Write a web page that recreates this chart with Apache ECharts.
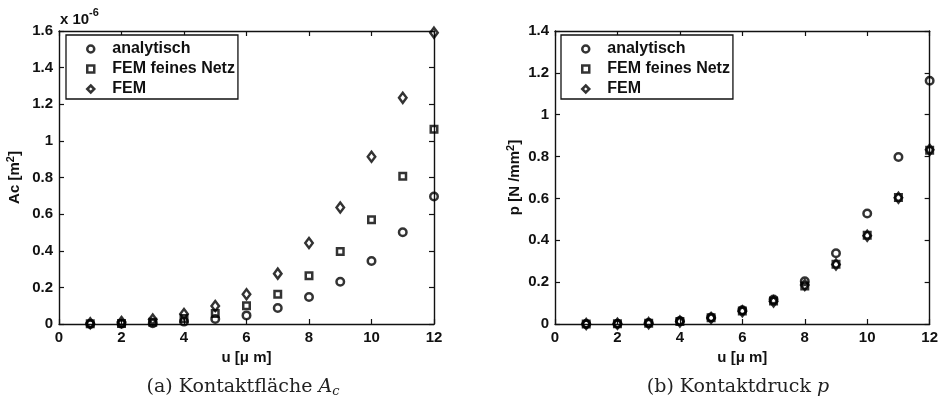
<!DOCTYPE html>
<html>
<head>
<meta charset="utf-8">
<script src="https://cdn.jsdelivr.net/npm/echarts@6/dist/echarts.min.js"></script>
<style>
html, body { margin: 0; padding: 0; background: #fff; }
#chart { width: 941px; height: 401px; }
</style>
</head>
<body>
<div id="chart"></div>
<script>
// Verschiebung u in µm
const uValues = [1, 2, 3, 4, 5, 6, 7, 8, 9, 10, 11, 12];

// Kontaktfläche Ac in 10^-6 m^2
const acAnalytisch = [0.000, 0.001, 0.004, 0.013, 0.027, 0.047, 0.087, 0.147, 0.231, 0.344, 0.501, 0.696];
const acFemFein    = [0.001, 0.003, 0.010, 0.030, 0.057, 0.100, 0.162, 0.264, 0.396, 0.569, 0.807, 1.064];
const acFem        = [0.004, 0.011, 0.025, 0.055, 0.098, 0.162, 0.275, 0.442, 0.636, 0.913, 1.235, 1.591];

// Kontaktdruck p in N/mm^2
const pAnalytisch = [0.000, 0.001, 0.005, 0.014, 0.031, 0.066, 0.117, 0.204, 0.338, 0.528, 0.798, 1.162];
const pFemFein    = [0.000, 0.001, 0.004, 0.012, 0.030, 0.062, 0.110, 0.182, 0.286, 0.424, 0.605, 0.830];
const pFem        = [0.000, 0.001, 0.004, 0.012, 0.029, 0.061, 0.108, 0.186, 0.284, 0.422, 0.603, 0.832];

const seriesNames = ['analytisch', 'FEM feines Netz', 'FEM'];
const xRange = { min: 0, max: 12, interval: 2 };
const acRange = { min: 0, max: 1.6, interval: 0.2 };
const pRange = { min: 0, max: 1.4, interval: 0.2 };

const ink = '#111';
const sansBold = { fontFamily: 'Liberation Sans', fontWeight: 'bold', color: ink };

function pairs(ys) { return uValues.map((u, i) => [u, ys[i]]); }

function axisCommon(range, gridIndex, position, showLabels) {
  return {
    type: 'value',
    gridIndex: gridIndex,
    position: position,
    min: range.min, max: range.max, interval: range.interval,
    axisLine: { show: true, onZero: false, lineStyle: { color: ink, width: 1.4 } },
    axisTick: { show: true, inside: true, length: 5, lineStyle: { color: ink, width: 1.2 } },
    axisLabel: Object.assign({ show: showLabels, fontSize: 15, margin: 6 }, sansBold),
    splitLine: { show: false }
  };
}

const markerStyle = { color: 'rgba(0,0,0,0)', borderColor: '#000', borderWidth: 2.5 };
const markerDefs = [
  { symbol: 'circle', size: 7.5 },
  { symbol: 'rect', size: 6.5 },
  { symbol: 'diamond', size: [7.5, 10] }
];

function scatterSet(gridIndex, datasets) {
  return datasets.map((ys, k) => ({
    name: seriesNames[k],
    type: 'scatter',
    xAxisIndex: gridIndex * 2,
    yAxisIndex: gridIndex * 2,
    data: pairs(ys),
    symbol: markerDefs[k].symbol,
    symbolSize: markerDefs[k].size,
    itemStyle: markerStyle,
    clip: false,
    z: 3 - k,
    emphasis: { disabled: true }
  }));
}

function legendAt(left) {
  return {
    data: seriesNames,
    orient: 'vertical',
    left: left, top: 35,
    padding: [6, 3, 2, 20],
    itemWidth: 7, itemHeight: 7, itemGap: 4,
    symbolKeepAspect: true,
    borderColor: ink, borderWidth: 1.3,
    backgroundColor: '#fff',
    selectedMode: false,
    textStyle: Object.assign({ fontSize: 16, padding: [0, 0, 0, 13] }, sansBold),
    itemStyle: markerStyle
  };
}

const nameRich = {
  sup: { fontFamily: 'Liberation Sans', fontWeight: 'bold', fontSize: 11, color: ink, padding: [0, 0, 8, 0] }
};

const xAxes = [];
const yAxes = [];
[[acRange, 'Ac [m{sup|2}]', 35], [pRange, 'p [N /mm{sup|2}]', 31]].forEach(([yr, yName, yGap], g) => {
  const xb = axisCommon(xRange, g, 'bottom', true);
  xb.name = 'u [μ m]';
  xb.nameLocation = 'middle';
  xb.nameGap = 24;
  xb.nameTextStyle = Object.assign({ fontSize: 15 }, sansBold);
  xAxes.push(xb, axisCommon(xRange, g, 'top', false));
  const yl = axisCommon(yr, g, 'left', true);
  yl.name = yName;
  yl.nameLocation = 'middle';
  yl.nameGap = yGap;
  yl.nameTextStyle = Object.assign({ fontSize: 15, rich: nameRich }, sansBold);
  yAxes.push(yl, axisCommon(yr, g, 'right', false));
});

const chart = echarts.init(document.getElementById('chart'), null, { renderer: 'canvas' });
chart.setOption({
  animation: false,
  backgroundColor: '#fff',
  grid: [
    { left: 59, top: 31, width: 375, height: 293 },
    { left: 555, top: 31, width: 375, height: 293 }
  ],
  xAxis: xAxes,
  yAxis: yAxes,
  legend: [legendAt(66), legendAt(561)],
  series: scatterSet(0, [acAnalytisch, acFemFein, acFem])
    .concat(scatterSet(1, [pAnalytisch, pFemFein, pFem])),
  graphic: [
    { type: 'text', left: 60, top: 12, style: { text: 'x 10', fontSize: 15, fill: ink, fontFamily: 'Liberation Sans', fontWeight: 'bold' } },
    { type: 'text', left: 89, top: 7, style: { text: '-6', fontSize: 11, fill: ink, fontFamily: 'Liberation Sans', fontWeight: 'bold' } },
    {
      type: 'text', x: 243, y: 387,
      style: {
        text: '{n|(a) Kontaktfläche }{i|A}{s|c}',
        textAlign: 'center', textVerticalAlign: 'middle',
        fill: '#222',
        rich: {
          n: { fontFamily: 'DejaVu Serif', fontSize: 19, lineHeight: 24 },
          i: { fontFamily: 'DejaVu Serif', fontStyle: 'italic', fontSize: 19, lineHeight: 24 },
          s: { fontFamily: 'DejaVu Serif', fontStyle: 'italic', fontSize: 13, lineHeight: 13, padding: [10, 0, 0, 0] }
        }
      }
    },
    {
      type: 'text', x: 738, y: 387,
      style: {
        text: '{n|(b) Kontaktdruck }{i|p}',
        textAlign: 'center', textVerticalAlign: 'middle',
        fill: '#222',
        rich: {
          n: { fontFamily: 'DejaVu Serif', fontSize: 19, lineHeight: 24 },
          i: { fontFamily: 'DejaVu Serif', fontStyle: 'italic', fontSize: 19, lineHeight: 24 }
        }
      }
    }
  ]
});
</script>
</body>
</html>
